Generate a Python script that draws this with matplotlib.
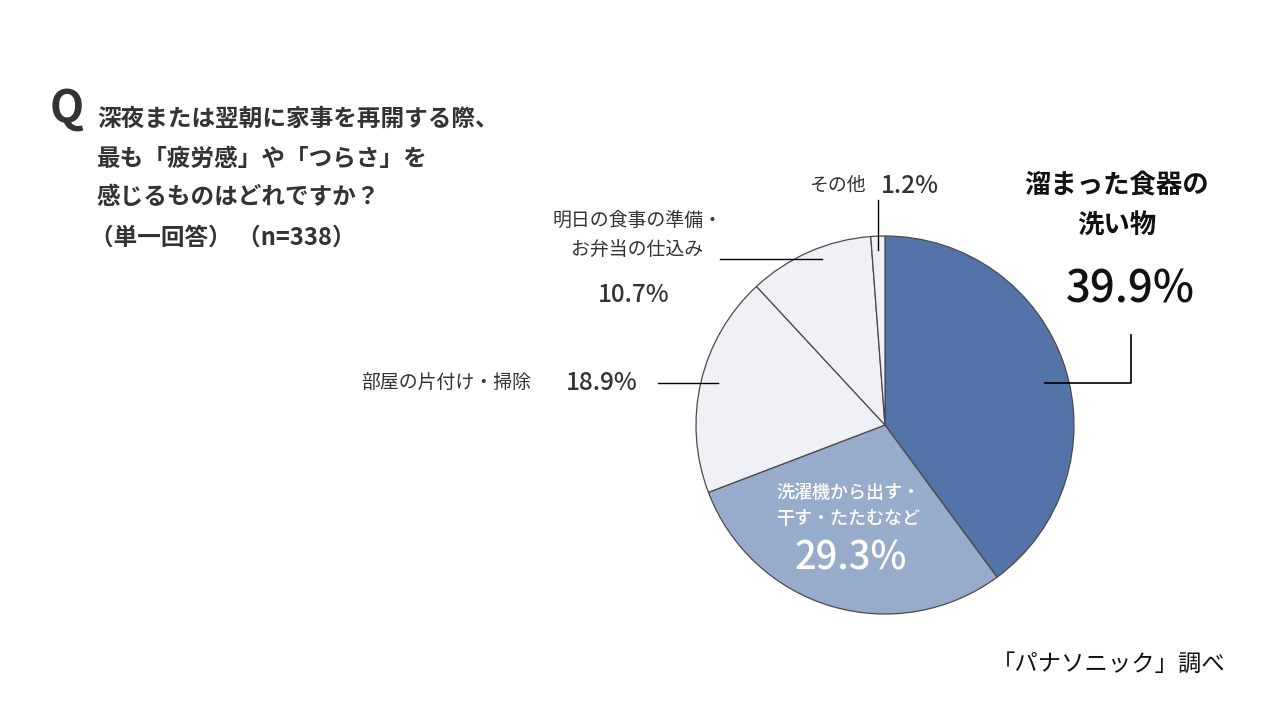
import matplotlib
matplotlib.use("Agg")
import matplotlib.pyplot as plt

plt.rcParams['font.family'] = ['Noto Sans CJK JP', 'DejaVu Sans']

# data
labels = ['溜まった食器の\n洗い物', '洗濯機から出す・\n干す・たたむなど', '部屋の片付け・掃除',
          '明日の食事の準備・\nお弁当の仕込み', 'その他']
values = [39.9, 29.3, 18.9, 10.7, 1.2]
slice_colors = ['#5473a8', '#97abcb', '#eff1f6', '#eff1f6', '#eff1f6']
title_lines = ['深夜または翌朝に家事を再開する際、', '最も「疲労感」や「つらさ」を',
               '感じるものはどれですか？', '（単一回答） （n=338）']
source = '「パナソニック」調べ'

H = 720
fig = plt.figure(figsize=(12.8, 7.2), dpi=100)
ax = fig.add_axes([0, 0, 1, 1])
ax.set_xlim(0, 1280)
ax.set_ylim(0, H)
ax.axis('off')


def Y(y):
    return H - y


ax.pie(values, colors=slice_colors, startangle=90, counterclock=False,
       center=(885, Y(425)), radius=189,
       wedgeprops=dict(edgecolor='#4a4a4a', linewidth=0.9))
ax.set_xlim(0, 1280)
ax.set_ylim(0, H)
ax.set_aspect('equal')

dark = '#333333'

# title block
ax.text(50, Y(110), 'Q', fontsize=32, fontweight='bold', color=dark, va='center', ha='left')
ty = [119, 159, 197, 238]
for i, line in enumerate(title_lines):
    x0 = 97 if i < 3 else 90
    ax.text(x0, Y(ty[i]), line, fontsize=17, fontweight='bold', color=dark,
            va='center', ha='left')

# 39.9%
ax.text(1117, Y(206), labels[0], fontsize=19, fontweight='bold', color='#111111',
        ha='center', va='center', linespacing=1.6)
ax.text(1130, Y(290), f'{values[0]}%', fontsize=31.5, fontweight='medium', color='#111111',
        ha='center', va='center')
ax.plot([1045, 1131, 1131], [Y(383), Y(383), Y(335)], color='black', lw=1.2)

# 29.3%
ax.text(848, Y(506), labels[1], fontsize=13, fontweight='medium', color='white',
        ha='center', va='center', linespacing=1.55)
ax.text(851, Y(558), f'{values[1]}%', fontsize=27.5, fontweight='medium', color='white',
        ha='center', va='center')

# 18.9%
ax.text(446, Y(382), labels[2], fontsize=13.6, color=dark, ha='center', va='center')
ax.text(602, Y(383), f'{values[2]}%', fontsize=17.5, fontweight='medium', color=dark,
        ha='center', va='center')
ax.plot([658, 718], [Y(383), Y(383)], color='black', lw=1)

# 10.7%
ax.text(637, Y(235), labels[3], fontsize=13.6, color=dark, ha='center', va='center',
        linespacing=1.55)
ax.text(634, Y(295), f'{values[3]}%', fontsize=17.5, fontweight='medium', color=dark,
        ha='center', va='center')
ax.plot([720, 822], [Y(259), Y(259)], color='black', lw=1)

# 1.2%
ax.text(837, Y(185), labels[4], fontsize=13.6, color=dark, ha='center', va='center')
ax.text(910, Y(186), f'{values[4]}%', fontsize=17.5, fontweight='medium', color=dark,
        ha='center', va='center')
ax.plot([878, 878], [Y(200), Y(250)], color='black', lw=1)

# source
ax.text(1226, Y(664), source, fontsize=16.8, color='#111111', ha='right', va='center')

fig.savefig('out.png', dpi=100, facecolor='white')
